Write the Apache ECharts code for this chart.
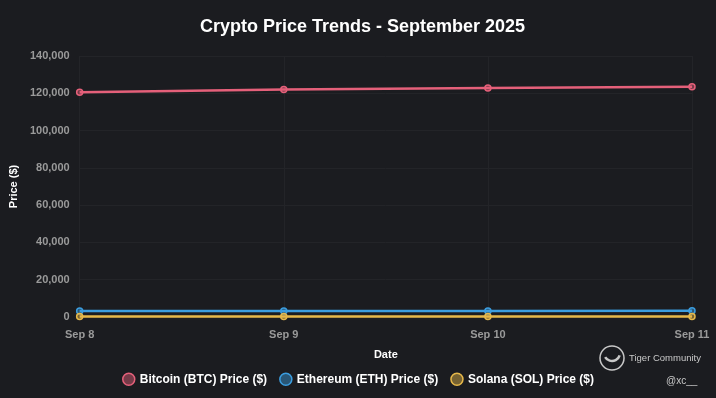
<!DOCTYPE html>
<html><head><meta charset="utf-8">
<script src="https://cdn.jsdelivr.net/npm/echarts@6/dist/echarts.min.js"></script>
<style>html,body{margin:0;padding:0;background:#1b1c20;}#c{width:716px;height:398px;}</style>
</head><body><div id="c"></div>
<script>
const dates = ['Sep 8', 'Sep 9', 'Sep 10', 'Sep 11'];
const btcPrices = [120500, 122000, 122800, 123500];
const ethPrices = [3200, 3220, 3250, 3300];
const solPrices = [205, 214, 222, 226];
const seriesNames = ['Bitcoin (BTC) Price ($)', 'Ethereum (ETH) Price ($)', 'Solana (SOL) Price ($)'];
const colors = ['#e5607a', '#3b9ddf', '#e6b84a'];
const fills = ['rgba(229,96,122,0.45)', 'rgba(59,157,223,0.45)', 'rgba(230,184,74,0.45)'];
const dataSets = [btcPrices, ethPrices, solPrices];

const FONT = '"Liberation Sans", Arial, sans-serif';
const chart = echarts.init(document.getElementById('c'), null, {renderer: 'canvas'});
chart.setOption({
  backgroundColor: '#1b1c20',
  animation: false,
  title: {
    text: 'Crypto Price Trends - September 2025',
    left: 195, top: 13,
    textStyle: {color: '#ffffff', fontSize: 18, fontWeight: 'bold', fontFamily: FONT}
  },
  legend: {
    bottom: 7, left: 'center',
    icon: 'circle', itemWidth: 12, itemHeight: 12, itemGap: 12,
    textStyle: {color: '#ffffff', fontSize: 12, fontWeight: 'bold', fontFamily: FONT},
    data: seriesNames.map((n, i) => ({name: n, itemStyle: {color: fills[i], borderColor: colors[i], borderWidth: 1.5}}))
  },
  grid: {left: 78, right: 24, top: 56, bottom: 81},
  xAxis: {
    type: 'category', data: dates, boundaryGap: false,
    name: 'Date', nameLocation: 'middle', nameGap: 32,
    nameTextStyle: {color: '#ffffff', fontSize: 11, fontWeight: 'bold', fontFamily: FONT},
    axisLine: {show: false}, axisTick: {show: false},
    axisLabel: {color: '#9a9a9a', fontSize: 11, fontWeight: 'bold', fontFamily: FONT, margin: 12},
    splitLine: {show: true, lineStyle: {color: '#232428', width: 1}}
  },
  yAxis: {
    type: 'value', min: 0, max: 140000, interval: 20000,
    name: 'Price ($)', nameLocation: 'middle', nameGap: 56, nameRotate: 90,
    nameTextStyle: {color: '#ffffff', fontSize: 11, fontWeight: 'bold', fontFamily: FONT},
    axisLine: {show: false}, axisTick: {show: false},
    axisLabel: {color: '#9a9a9a', fontSize: 11, fontWeight: 'bold', fontFamily: FONT, margin: 10,
      formatter: v => v.toLocaleString('en-US')},
    splitLine: {show: true, lineStyle: {color: '#232428', width: 1}}
  },
  series: dataSets.map((d, i) => ({
    name: seriesNames[i], type: 'line', data: d,
    symbol: 'circle', symbolSize: 6, showSymbol: true,
    lineStyle: {color: colors[i], width: 2.5},
    itemStyle: {color: fills[i], borderColor: colors[i], borderWidth: 1.5}
  })),
  graphic: [
    {type: 'circle', shape: {cx: 612, cy: 358, r: 12}, style: {fill: 'none', stroke: '#c8c8c8', lineWidth: 1.5}},
    {type: 'arc', shape: {cx: 612, cy: 353, r: 8, startAngle: 0.3, endAngle: 2.6}, style: {fill: 'none', stroke: '#c8c8c8', lineWidth: 2.5}},
    {type: 'text', left: 629, top: 353, style: {text: 'Tiger Community', fill: '#c8c8c8', fontSize: 9.5, fontFamily: FONT}},
    {type: 'text', left: 666, top: 376, style: {text: '@xc__', fill: '#c8c8c8', fontSize: 10, fontFamily: FONT}}
  ]
});
</script></body></html>
